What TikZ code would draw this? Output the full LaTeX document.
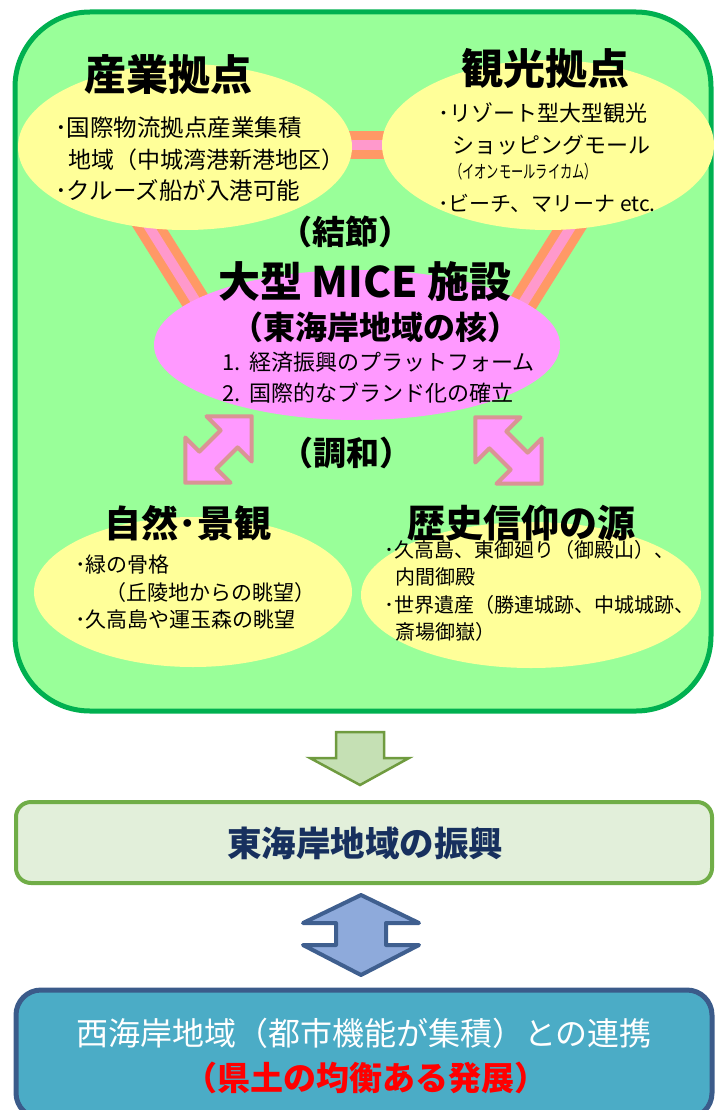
\documentclass[tikz,border=0pt]{standalone}
\usepackage{fontspec}
\setmainfont{Noto Sans CJK JP}
\usetikzlibrary{shapes.geometric}
\definecolor{outerfill}{HTML}{99FF99}
\definecolor{outerline}{HTML}{00B050}
\definecolor{yel}{HTML}{FFFF99}
\definecolor{bandO}{HTML}{FF9966}
\definecolor{bandP}{HTML}{FF99CC}
\definecolor{micefill}{HTML}{FF99FF}
\definecolor{arrline}{HTML}{D99594}
\definecolor{garrfill}{HTML}{C5E0B4}
\definecolor{garrline}{HTML}{6F9B3F}
\definecolor{boxonefill}{HTML}{E2EFDA}
\definecolor{boxoneline}{HTML}{70AD47}
\definecolor{navytext}{HTML}{17305E}
\definecolor{barrfill}{HTML}{8EAADB}
\definecolor{barrline}{HTML}{3F5F8F}
\definecolor{boxtwofill}{HTML}{4BACC6}
\definecolor{boxtwoline}{HTML}{3B5B8A}
\newcommand\myfs[1]{\fontsize{#1}{#1}\selectfont}
\begin{document}
\begin{tikzpicture}[x=1pt,y=-1pt,
  txt/.style={inner sep=0pt, anchor=west},
  ctxt/.style={inner sep=0pt, anchor=center},
  blob/.style={ellipse, inner sep=0pt, draw=none},
  band/.style={draw=bandO, line width=9, double=bandP, double distance=10},
  pinkarrow/.style={fill=micefill, draw=arrline, line width=4, line join=round},
  ]
\useasboundingbox (0,0) rectangle (715,1110);
\clip (0,0) rectangle (715,1110);

% outer container
\node (outer) [draw=outerline, fill=outerfill, line width=5, rounded corners=75,
  minimum width=696, minimum height=699, inner sep=0] at (363,361.5) {};

% bands
\coordinate (hbA) at (185,145);
\coordinate (hbB) at (548,145);
\coordinate (lbA) at (101,150);
\coordinate (lbB) at (220,340);
\coordinate (rbA) at (619,150);
\coordinate (rbB) at (500,340);
\draw[band] (hbA) -- (hbB);
\draw[band] (lbA) -- (lbB);
\draw[band] (rbA) -- (rbB);

% ellipses
\node (e1) [blob, fill=yel, minimum width=334, minimum height=166] at (185,147) {};
\node (e2) [blob, fill=yel, minimum width=332, minimum height=170] at (548,145) {};
\node (mice) [blob, fill=micefill, minimum width=406, minimum height=150] at (357,345) {};
\node (e3) [blob, fill=yel, minimum width=318, minimum height=150] at (193,592) {};
\node (e4) [blob, fill=yel, minimum width=340, minimum height=146] at (531,595) {};

% top-left
\node (t1) [ctxt] at (168,75) {\myfs{42}\bfseries 産業拠点};
\node (l1) [txt] at (55,128) {\myfs{23.5}･国際物流拠点産業集積};
\node (l2) [txt] at (68,160) {\myfs{23}地域（中城湾港新港地区）};
\node (l3) [txt] at (55,190) {\myfs{23.5}･クルーズ船が入港可能};

% top-right
\node (t2) [ctxt] at (545,68) {\myfs{42}\bfseries 観光拠点};
\node (r1) [txt] at (438,113) {\myfs{22}･リゾート型大型観光};
\node (r2) [txt] at (452,145) {\myfs{22}ショッピングモール};
\node (r3) [txt] at (450,172) {\scalebox{0.68}[1]{\myfs{18}（イオンモールライカム）}};
\node (r4) [txt] at (438,203) {\myfs{21}･ビーチ、マリーナ etc.};

% center
\node (k1) [ctxt] at (345,232) {\myfs{33}\bfseries （結節）};
\node (m1) [ctxt] at (365,282) {\myfs{42}\bfseries 大型 MICE 施設};
\node (m2) [ctxt] at (375,327) {\myfs{32}\bfseries （東海岸地域の核）};
\node (m3) [txt] at (222,362) {\myfs{22}1.\hspace{0.4em}経済振興のプラットフォーム};
\node (m4) [txt] at (222,393) {\myfs{22}2.\hspace{0.4em}国際的なブランド化の確立};
\node (k2) [ctxt] at (346,453) {\myfs{33}\bfseries （調和）};

% double arrows
\draw[pinkarrow, shift={(218.5,449.5)}, rotate=45]
  (-47,0) -- (-15,32) -- (-15,12) -- (15,12) -- (15,32) -- (47,0)
  -- (15,-32) -- (15,-12) -- (-15,-12) -- (-15,-32) -- cycle;
\draw[pinkarrow, shift={(508.5,450.5)}, rotate=-45]
  (-47,0) -- (-15,32) -- (-15,12) -- (15,12) -- (15,32) -- (47,0)
  -- (15,-32) -- (15,-12) -- (-15,-12) -- (-15,-32) -- cycle;

% bottom-left
\node (t3) [ctxt] at (188,523) {\myfs{37}\bfseries 自然･景観};
\node (bl1) [txt] at (75,565) {\myfs{21}･緑の骨格};
\node (bl2) [txt] at (105,593) {\myfs{21}（丘陵地からの眺望）};
\node (bl3) [txt] at (75,620) {\myfs{21}･久高島や運玉森の眺望};

% bottom-right
\node (t4) [ctxt] at (521,523) {\myfs{38}\bfseries 歴史信仰の源};
\node (br1) [txt] at (384,550) {\myfs{20}･久高島、東御廻り（御殿山）、};
\node (br2) [txt] at (395,577) {\myfs{20}内間御殿};
\node (br3) [txt] at (384,605) {\myfs{20}･世界遺産（勝連城跡、中城城跡、};
\node (br4) [txt] at (395,632) {\myfs{20}斎場御嶽）};

% green down arrow
\draw[fill=garrfill, draw=garrline, line width=2.5, line join=miter]
  (336,732) -- (384,732) -- (384,758) -- (409,758) -- (360,785)
  -- (310,758) -- (336,758) -- cycle;

% box 1
\node (box1) [draw=boxoneline, fill=boxonefill, line width=4, rounded corners=15,
  minimum width=696, minimum height=81, inner sep=0] at (364,842.5) {};
\node (box1t) [ctxt, text=navytext] at (365,843) {\myfs{34.5}\bfseries 東海岸地域の振興};

% blue double arrow
\draw[fill=barrfill, draw=barrline, line width=4, line join=round]
  (361,895) -- (419,923) -- (386,923) -- (386,945) -- (419,945) -- (361,975)
  -- (303,945) -- (336,945) -- (336,923) -- (303,923) -- cycle;

% box 2
\node (box2) [draw=boxtwoline, fill=boxtwofill, line width=5, rounded corners=25,
  minimum width=696, minimum height=128, inner sep=0] at (364,1054) {};
\node (box2a) [ctxt, text=white] at (364,1033) {\myfs{32}西海岸地域（都市機能が集積）との連携};
\node (box2b) [ctxt, text=red] at (366,1078) {\myfs{33}\bfseries （県土の均衡ある発展）};
\end{tikzpicture}
\end{document}
